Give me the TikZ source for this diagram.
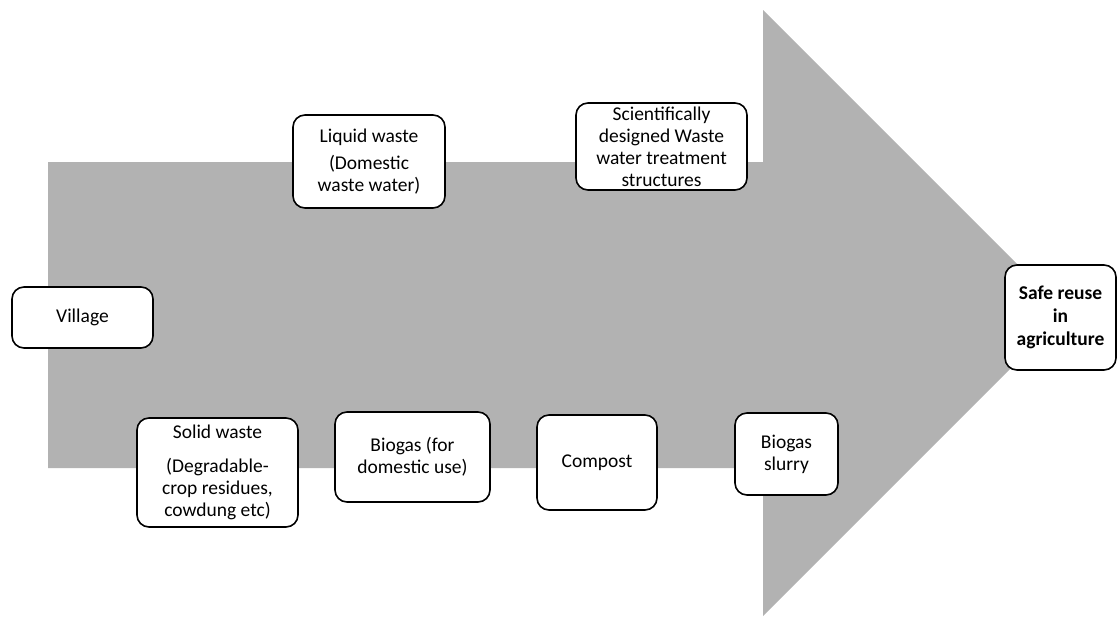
\documentclass[tikz,border=0pt]{standalone}
\usepackage{fontspec}
\setmainfont{Carlito}
\usepackage{tikz}
\usetikzlibrary{calc}
\definecolor{arrowgray}{gray}{0.7}
\tikzstyle{every node}=[font=\fontsize{19.5}{22}\selectfont]
\tikzstyle{stage}=[draw=black, line width=1.6pt, fill=white, rounded corners=12pt, align=center, inner sep=1pt]

\begin{document}
\begin{tikzpicture}[x=1pt, y=-1pt]
                \useasboundingbox (0,0) rectangle (1118,616);
                \fill[arrowgray] (48,162) -- (763,162) -- (763,10) -- (1066,313) -- (763,616) -- (763,468) -- (48,468) -- cycle;

                \node[stage, minimum width=141pt, minimum height=61pt] (village) at (82.5,317.5) {Village};
                \node[stage, minimum width=152pt, minimum height=93pt] (liquid) at (369,161.5) {Liquid waste\\[5pt](Domestic\\waste water)};
                \node[stage, minimum width=171pt, minimum height=87pt] (treatment) at (661.5,146.5) {Scientifically\\designed Waste\\water treatment\\structures};
                \node[stage, minimum width=161pt, minimum height=109pt] (solid) at (217.5,472.5) {Solid waste\\[12pt](Degradable-\\crop residues,\\cowdung etc)};
                \node[stage, minimum width=155pt, minimum height=90pt] (biogas) at (412.5,457) {Biogas (for\\domestic use)};
                \node[stage, minimum width=120pt, minimum height=95pt] (compost) at (597,462.5) {Compost};
                \node[stage, minimum width=103pt, minimum height=82pt] (slurry) at (786.5,454) {Biogas\\slurry};
                \node[stage, minimum width=111pt, minimum height=105pt, font=\fontsize{19.5}{23}\selectfont\bfseries] (reuse) at (1060.5,317.5) {Safe reuse\\in\\agriculture};
            \end{tikzpicture}
\end{document}
